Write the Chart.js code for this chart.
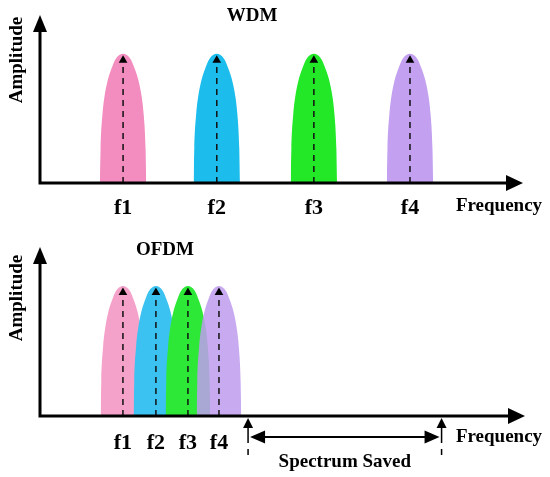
<!DOCTYPE html>
<html lang="en">
<head>
  <meta charset="UTF-8">
  <title>WDM vs OFDM</title>
  <script src="https://cdn.jsdelivr.net/npm/chart.js@4.4.1/dist/chart.umd.min.js"></script>
  <style>
    body { margin: 0; background: #fff; }
    .panel { position: absolute; left: 0; width: 550px; }
    #top { top: 0; height: 230px; }
    #bottom { top: 230px; height: 247px; }
  </style>
</head>
<body>
  <div class="panel" id="top"><canvas id="wdmChart" width="550" height="230"></canvas></div>
  <div class="panel" id="bottom"><canvas id="ofdmChart" width="550" height="247"></canvas></div>

  <script>
    // carriers and where they sit on the frequency axis
    const carriers = ['f1', 'f2', 'f3', 'f4'];
    const wdmCenters = [1.72, 3.66, 5.67, 7.66];
    const ofdmCenters = [1.71, 2.39, 3.05, 3.69];
    const carrierColors = ['#f38dc0', '#1cbcec', '#22e828', '#c4a0f0'];
    const ofdmColors = ['#f5a2ca', '#3cc2f0', '#2ee838', 'rgba(190,155,238,0.85)'];

    // shape of one spectral lobe (offset in half widths, amplitude)
    const lobeOffsets = [-1, -0.97, -0.89, -0.81, -0.67, -0.49, -0.32, 0,
      0.32, 0.49, 0.67, 0.81, 0.89, 0.97, 1];
    const lobeHeights = [0, 0.27, 0.53, 0.66, 0.79, 0.89, 0.96, 1,
      0.96, 0.89, 0.79, 0.66, 0.53, 0.27, 0];
    const wdmHalfWidth = 0.48;
    const ofdmHalfWidth = 0.46;
    const stemTop = 0.95;

    // band freed by OFDM
    const savedRange = [4.29, 8.28];

    const serif = 'Liberation Serif';

    function lobeDatasets(centers, colors, halfWidth) {
      const sets = [];
      centers.forEach((c, i) => {
        sets.push({
          data: lobeOffsets.map((o, k) => ({ x: c + o * halfWidth, y: lobeHeights[k] })),
          backgroundColor: colors[i],
          borderWidth: 0,
          pointRadius: 0,
          fill: 'origin',
          cubicInterpolationMode: 'monotone',
          order: 10 - i
        });
      });
      centers.forEach((c) => {
        sets.push({
          data: [{ x: c, y: 0 }, { x: c, y: stemTop }],
          borderColor: '#111',
          borderWidth: 1.5,
          borderDash: [6, 5],
          pointRadius: [0, 5],
          pointStyle: 'triangle',
          pointBackgroundColor: '#000',
          pointBorderWidth: 0,
          fill: false,
          order: 0
        });
      });
      return sets;
    }

    function arrowHead(ctx, x, y, dir, len, half) {
      // dir: 'up' | 'right' | 'left'
      ctx.beginPath();
      if (dir === 'up') {
        ctx.moveTo(x, y); ctx.lineTo(x - half, y + len); ctx.lineTo(x + half, y + len);
      } else if (dir === 'right') {
        ctx.moveTo(x, y); ctx.lineTo(x - len, y - half); ctx.lineTo(x - len, y + half);
      } else {
        ctx.moveTo(x, y); ctx.lineTo(x + len, y - half); ctx.lineTo(x + len, y + half);
      }
      ctx.closePath();
      ctx.fill();
    }

    function decorPlugin(opts) {
      return {
        id: 'decor',
        afterDatasetsDraw(chart) {
          const ctx = chart.ctx;
          const a = chart.chartArea;
          ctx.save();
          ctx.strokeStyle = '#000';
          ctx.fillStyle = '#000';
          ctx.lineWidth = 3;
          // axes with arrows
          ctx.beginPath();
          ctx.moveTo(a.left, a.bottom + 1.5);
          ctx.lineTo(a.left, a.top + 14);
          ctx.moveTo(a.left - 1.5, a.bottom);
          ctx.lineTo(a.right - 14, a.bottom);
          ctx.stroke();
          arrowHead(ctx, a.left, a.top, 'up', 17, 7);
          arrowHead(ctx, a.right, a.bottom, 'right', 17, 8);

          // texts
          ctx.font = 'bold 19px "' + serif + '"';
          ctx.textAlign = 'center';
          ctx.textBaseline = 'middle';
          ctx.fillText(opts.title, opts.titleX, opts.titleY);
          ctx.fillText('Frequency', 499, opts.freqY);
          ctx.save();
          ctx.translate(17, opts.ampY);
          ctx.rotate(-Math.PI / 2);
          ctx.fillText('Amplitude', 0, 0);
          ctx.restore();

          if (opts.saved) {
            const xs = chart.scales.x;
            const x1 = xs.getPixelForValue(savedRange[0]);
            const x2 = xs.getPixelForValue(savedRange[1]);
            const y0 = a.bottom + 2;
            ctx.lineWidth = 1.5;
            [x1, x2].forEach((x) => {
              ctx.beginPath();
              ctx.moveTo(x, y0 + 8);
              ctx.lineTo(x, y0 + 25);
              ctx.moveTo(x, y0 + 31);
              ctx.lineTo(x, y0 + 37);
              ctx.stroke();
              arrowHead(ctx, x, y0, 'up', 10, 5);
            });
            const yh = a.bottom + 21;
            ctx.lineWidth = 2;
            ctx.beginPath();
            ctx.moveTo(x1 + 10, yh);
            ctx.lineTo(x2 - 10, yh);
            ctx.stroke();
            arrowHead(ctx, x1 + 2, yh, 'left', 15, 6.5);
            arrowHead(ctx, x2 - 2, yh, 'right', 15, 6.5);
            ctx.fillText('Spectrum Saved', (x1 + x2) / 2, a.bottom + 46);
          }
          ctx.restore();
        }
      };
    }

    function makeChart(id, centers, colors, halfWidth, layout, opts) {
      return new Chart(document.getElementById(id), {
        type: 'line',
        data: { datasets: lobeDatasets(centers, colors, halfWidth) },
        options: {
          responsive: false,
          animation: false,
          devicePixelRatio: 1,
          layout: { padding: { left: 40, right: layout.right, top: layout.top, bottom: 0 } },
          plugins: { legend: { display: false }, tooltip: { enabled: false } },
          scales: {
            x: {
              type: 'linear',
              min: 0,
              max: 10,
              grid: { display: false },
              border: { display: false },
              afterFit: (s) => { s.height = layout.axisHeight; },
              afterBuildTicks: (s) => { s.ticks = centers.map((v) => ({ value: v })); },
              ticks: {
                autoSkip: false,
                maxRotation: 0,
                padding: layout.tickPad,
                color: '#000',
                font: { family: serif, size: 22, weight: 'bold' },
                callback: (v, i) => carriers[i]
              }
            },
            y: { display: false, min: 0, max: 1.3 }
          }
        },
        plugins: [decorPlugin(opts)]
      });
    }

    makeChart('wdmChart', wdmCenters, carrierColors, wdmHalfWidth,
      { right: 27, top: 15, axisHeight: 47, tickPad: 4 },
      { title: 'WDM', titleX: 252, titleY: 16, freqY: 206, ampY: 60, saved: false });

    makeChart('ofdmChart', ofdmCenters, ofdmColors, ofdmHalfWidth,
      { right: 25, top: 17, axisHeight: 61, tickPad: 6 },
      { title: 'OFDM', titleX: 165, titleY: 20, freqY: 207, ampY: 68, saved: true });
  </script>
</body>
</html>
